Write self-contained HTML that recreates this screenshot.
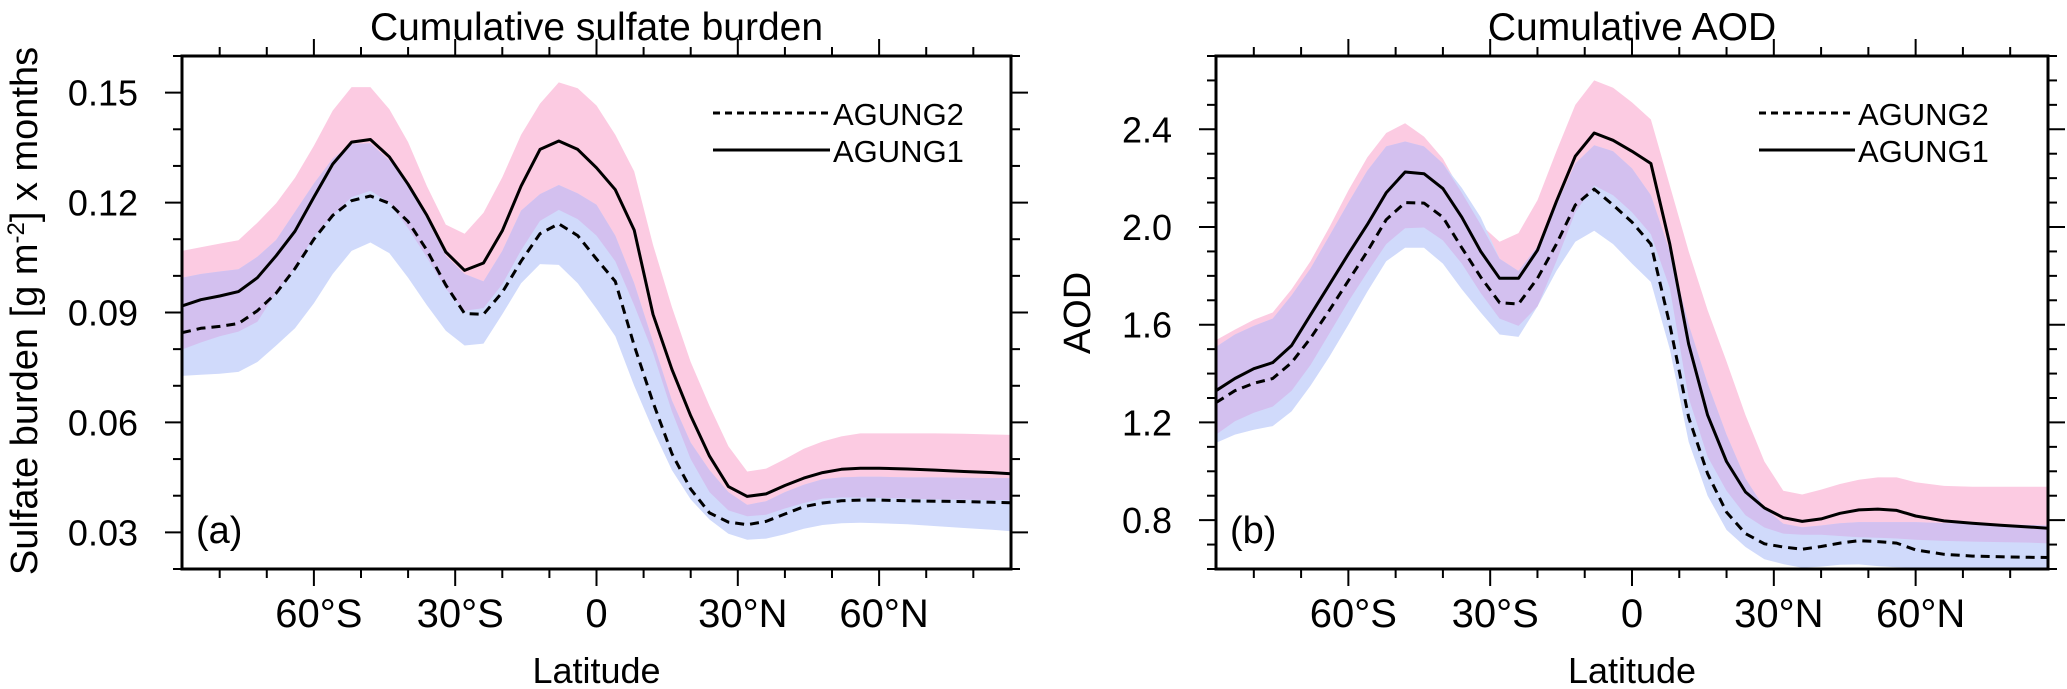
<!DOCTYPE html>
<html><head><meta charset="utf-8">
<style>
html,body{margin:0;padding:0;background:#fff;}
svg{display:block;font-family:"Liberation Sans",Arial,sans-serif;}
</style></head>
<body>
<svg id="chart" width="2067" height="689" viewBox="0 0 2067 689" xmlns="http://www.w3.org/2000/svg"></svg>
<script>
const lats=[-88,-84,-80,-76,-72,-68,-64,-60,-56,-52,-48,-44,-40,-36,-32,-28,-24,-20,-16,-12,-8,-4,0,4,8,12,16,20,24,28,32,36,40,44,48,52,56,60,66,72,78,84,88];
// Panel (a) sulfate burden
const a1=[.0918,.0935,.0945,.0957,.0995,.1055,.1122,.1215,.1305,.1365,.1372,.1325,.125,.1165,.1065,.1015,.1035,.1123,.1245,.1345,.1368,.1345,.1295,.1235,.1125,.0895,.0745,.0618,.0508,.0425,.0398,.0405,.0428,.0448,.0463,.0472,.0475,.0475,.0473,.047,.0466,.0463,.046];
const a1hi=[.1068,.1078,.1088,.1097,.1145,.1198,.1268,.1355,.1451,.1515,.1515,.1455,.1365,.1245,.114,.1115,.1172,.1269,.1385,.147,.1528,.1512,.1465,.1385,.1285,.1085,.0915,.0765,.0645,.0535,.0466,.0474,.05,.0528,.0548,.0562,.057,.057,.057,.057,.0569,.0567,.0566];
const a1lo=[.0799,.0818,.0835,.0848,.0875,.0955,.1022,.1108,.1165,.1215,.1232,.12,.113,.105,.0965,.0905,.0912,.0977,.107,.115,.118,.1155,.111,.104,.092,.079,.063,.05,.041,.036,.0344,.0348,.0365,.038,.0392,.0395,.0395,.0394,.0392,.039,.0389,.0388,.0388];
const a2=[.0845,.0857,.0862,.087,.0905,.0953,.102,.11,.1165,.1205,.1218,.1198,.1148,.107,.0975,.0897,.0895,.0955,.104,.1115,.1142,.111,.1046,.0985,.081,.0655,.0515,.0418,.0353,.0328,.0321,.033,.035,.037,.038,.0386,.0388,.0388,.0386,.0385,.0384,.0382,.0381];
const a2hi=[.0995,.1005,.1012,.1018,.1052,.1098,.1175,.1252,.132,.136,.1362,.1315,.1255,.1155,.1055,.1005,.0985,.1068,.1178,.1223,.1248,.1225,.1194,.111,.098,.082,.066,.0545,.047,.041,.0375,.0385,.041,.043,.0445,.045,.0452,.0452,.045,.045,.0449,.0448,.0448];
const a2lo=[.0727,.073,.0733,.0738,.0765,.081,.0857,.0925,.1005,.1068,.1091,.1062,.0995,.092,.085,.081,.0815,.0895,.098,.1032,.103,.098,.091,.0835,.07,.058,.047,.039,.0335,.0296,.028,.0283,.0295,.031,.032,.0325,.0326,.0325,.0322,.0317,.0312,.0307,.0303];
const aTicks=["0.03","0.06","0.09","0.12","0.15"];
// Panel (b) AOD
const b1=[1.33,1.38,1.42,1.445,1.515,1.64,1.765,1.89,2.01,2.14,2.225,2.218,2.157,2.04,1.9,1.79,1.79,1.905,2.105,2.29,2.385,2.355,2.31,2.26,1.93,1.52,1.23,1.04,.915,.85,.81,.795,.805,.828,.842,.845,.84,.817,.797,.787,.779,.772,.767];
const b1hi=[1.537,1.58,1.62,1.65,1.745,1.86,2.0,2.15,2.285,2.385,2.425,2.37,2.28,2.14,2.01,1.94,1.975,2.11,2.31,2.5,2.6,2.57,2.51,2.44,2.17,1.9,1.66,1.45,1.23,1.04,.92,.905,.925,.948,.965,.975,.975,.955,.94,.937,.937,.937,.937];
const b1lo=[1.15,1.205,1.24,1.265,1.33,1.435,1.565,1.695,1.815,1.93,1.995,1.998,1.945,1.85,1.73,1.625,1.595,1.675,1.86,2.06,2.17,2.13,2.06,1.97,1.75,1.3,1.06,.92,.82,.77,.745,.74,.74,.735,.73,.728,.725,.72,.715,.712,.71,.708,.705];
const b2=[1.281,1.33,1.36,1.38,1.445,1.545,1.66,1.78,1.9,2.03,2.1,2.098,2.04,1.915,1.795,1.69,1.685,1.79,1.93,2.09,2.155,2.09,2.02,1.93,1.6,1.22,.99,.833,.745,.703,.69,.681,.692,.706,.716,.712,.706,.678,.66,.653,.65,.648,.647];
const b2hi=[1.509,1.56,1.595,1.625,1.72,1.83,1.965,2.1,2.23,2.33,2.35,2.33,2.26,2.16,2.04,1.87,1.82,1.92,2.09,2.26,2.335,2.31,2.24,2.13,1.9,1.6,1.36,1.15,.97,.85,.785,.771,.778,.787,.792,.792,.792,.792,.788,.785,.782,.78,.778];
const b2lo=[1.116,1.15,1.17,1.185,1.245,1.35,1.47,1.6,1.735,1.86,1.915,1.915,1.85,1.745,1.65,1.56,1.55,1.675,1.82,1.94,1.985,1.93,1.85,1.775,1.5,1.12,.9,.76,.69,.64,.62,.605,.61,.617,.619,.612,.607,.605,.605,.605,.605,.605,.605];
const bTicks=["0.8","1.2","1.6","2.0","2.4"];
const xTickLabels=["60°S","30°S","0","30°N","60°N"];
const xTickVals=[-60,-30,0,30,60];

const NS="http://www.w3.org/2000/svg";
const svg=document.getElementById('chart');
function mk(tag,attrs,parent){const e=document.createElementNS(NS,tag);for(const k in attrs)e.setAttribute(k,attrs[k]);(parent||svg).appendChild(e);return e;}

function panel(cfg){
  const g=mk('g',{});
  
  
  const L=cfg.L,R=cfg.R,T=56,B=569;
  const xs=v=>L+(v+88)/176*(R-L);
  const ys=v=>B-(v-cfg.ymin)/(cfg.ymax-cfg.ymin)*(B-T);
  const clip=mk('clipPath',{id:'clip'+cfg.id},g);
  mk('rect',{x:L,y:T,width:R-L,height:B-T},clip);
  const band=(lo,hi,fill,nm)=>{
    let d='M';
    lats.forEach((la,i)=>{d+=xs(la).toFixed(1)+','+ys(hi[i]).toFixed(1)+' L';});
    for(let i=lats.length-1;i>=0;i--){d+=xs(lats[i]).toFixed(1)+','+ys(lo[i]).toFixed(1)+(i?' L':' Z');}
    const p=mk('path',{d:d,fill:fill,'clip-path':'url(#clip'+cfg.id+')'},g);
    
    
  };
  band(cfg.s1lo,cfg.s1hi,'#fccbe2','agung1-spread-band');
  band(cfg.s2lo,cfg.s2hi,'#d0dafb','agung2-spread-band');
  const olo=cfg.s1lo.map((v,i)=>Math.max(v,cfg.s2lo[i]));
  const ohi=cfg.s1hi.map((v,i)=>Math.max(olo[i],Math.min(v,cfg.s2hi[i])));
  band(olo,ohi,'#d3c0ef','band-overlap');
  const line=(arr,dash,nm)=>{
    const pts=lats.map((la,i)=>xs(la).toFixed(1)+','+ys(arr[i]).toFixed(1)).join(' ');
    const a={points:pts,fill:'none',stroke:'#000','stroke-width':3,'stroke-linejoin':'round','clip-path':'url(#clip'+cfg.id+')'};
    if(dash)a['stroke-dasharray']='9,6';
    const p=mk('polyline',a,g);
    
    
  };
  line(cfg.s2,true,'agung2-line');
  line(cfg.s1,false,'agung1-line');
  const fr=mk('rect',{x:L,y:T,width:R-L,height:B-T,fill:'none',stroke:'#000','stroke-width':3},g);
  
  
  for(let la=-80;la<=80;la+=10){
    const maj=la%30===0, len=maj?17:9, x=xs(la);
    mk('line',{x1:x,y1:B,x2:x,y2:B+len,stroke:'#000','stroke-width':2},g);
    mk('line',{x1:x,y1:T,x2:x,y2:T-len,stroke:'#000','stroke-width':2},g);
  }
  xTickVals.forEach((v,i)=>{
    const t=mk('text',{x:xs(v)+(v===0?0:5),y:627,'font-size':40,'text-anchor':'middle'},g);
    t.textContent=xTickLabels[i];
    
    
  });
  for(let k=0;;k++){
    const v=cfg.ymin+k*cfg.minor; if(v>cfg.ymax+1e-9)break;
    const maj=Math.abs(((v+1e-9)/cfg.major)-Math.round(v/cfg.major))<1e-3, len=maj?17:9, y=ys(v);
    mk('line',{x1:L,y1:y,x2:L-len,y2:y,stroke:'#000','stroke-width':2},g);
    mk('line',{x1:R,y1:y,x2:R+len,y2:y,stroke:'#000','stroke-width':2},g);
  }
  cfg.ticks.forEach(s=>{
    const t=mk('text',{x:L-44,y:ys(parseFloat(s))+13,'font-size':36,'text-anchor':'end'},g);
    t.textContent=s;
    
    
  });
  const ti=mk('text',{x:(L+R)/2,y:40,'font-size':39,'text-anchor':'middle'},g);
  ti.textContent=cfg.title;
  
  
  const xl=mk('text',{x:(L+R)/2,y:683,'font-size':36,'text-anchor':'middle'},g);
  xl.textContent='Latitude';
  
  
  const pl=mk('text',{x:L+14,y:543,'font-size':38},g);
  pl.textContent=cfg.tag;
  
  
  const lg=mk('g',{},g);
  
  
  const lx1=cfg.legX,lx2=cfg.legX+cfg.legW;
  mk('line',{x1:lx1,y1:113,x2:lx2,y2:113,stroke:'#000','stroke-width':3,'stroke-dasharray':'7,5'},lg);
  mk('line',{x1:lx1,y1:150,x2:lx2,y2:150,stroke:'#000','stroke-width':3},lg);
  const t1=mk('text',{x:lx2+3,y:125,'font-size':31},lg);t1.textContent='AGUNG2';
  
  
  const t2=mk('text',{x:lx2+3,y:162,'font-size':31},lg);t2.textContent='AGUNG1';
  
  
}
panel({id:'a',name:'panel-sulfate-burden',L:182,R:1011,ymin:0.02,ymax:0.16,major:0.03,minor:0.01,ticks:aTicks,
  s1:a1,s1hi:a1hi,s1lo:a1lo,s2:a2,s2hi:a2hi,s2lo:a2lo,title:'Cumulative sulfate burden',tag:'(a)',legX:713,legW:117});
panel({id:'b',name:'panel-aod',L:1216,R:2048,ymin:0.6,ymax:2.7,major:0.4,minor:0.1,ticks:bTicks,
  s1:b1,s1hi:b1hi,s1lo:b1lo,s2:b2,s2hi:b2hi,s2lo:b2lo,title:'Cumulative AOD',tag:'(b)',legX:1759,legW:96});
const ya=mk('text',{x:0,y:0,'font-size':38,'text-anchor':'middle',transform:'translate(37,311) rotate(-90)'});
ya.innerHTML='Sulfate burden [g m<tspan dy="-13" font-size="24">-2</tspan><tspan dy="13">] x months</tspan>';


const yb=mk('text',{x:0,y:0,'font-size':38,'text-anchor':'middle',transform:'translate(1090,313) rotate(-90)'});
yb.textContent='AOD';


</script>
</body></html>
